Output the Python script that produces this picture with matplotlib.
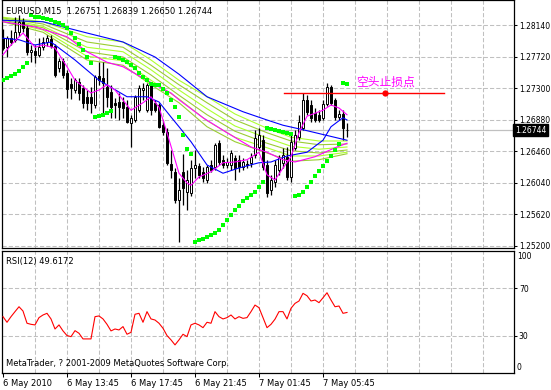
import numpy as np
import matplotlib.pyplot as plt

# EURUSD M15, one bar every 15 minutes from 6 May 2010 09:45 (bar index 0..86)
opens = [1.2797, 1.2785, 1.2797, 1.2795, 1.2805, 1.2819, 1.2811, 1.2779, 1.2780, 1.2775,
         1.2785, 1.2792, 1.2796, 1.2787, 1.2757, 1.2767, 1.2751, 1.2736, 1.2728, 1.2739,
         1.2731, 1.2719, 1.2719, 1.2708, 1.2747, 1.2744, 1.2732, 1.2725, 1.2711, 1.2712,
         1.2712, 1.2705, 1.2684, 1.2688, 1.2701, 1.2728, 1.2701, 1.2735, 1.2711, 1.2708,
         1.2681, 1.2672, 1.2629, 1.2619, 1.2581, 1.2619, 1.2592, 1.2591, 1.2624, 1.2627,
         1.2619, 1.2608, 1.2628, 1.2625, 1.2657, 1.2635, 1.2628, 1.2628, 1.2637, 1.2635,
         1.2625, 1.2629, 1.2631, 1.2641, 1.2652, 1.2661, 1.2628, 1.2595, 1.2605, 1.2621,
         1.2631, 1.2639, 1.2612, 1.2651, 1.2665, 1.2677, 1.2715, 1.2708, 1.2697, 1.2695,
         1.2691, 1.2709, 1.2732, 1.2715, 1.2692, 1.2696, 1.26751]
highs = [1.2809, 1.2800, 1.2808, 1.2825, 1.2828, 1.2824, 1.2815, 1.2788, 1.2788, 1.2797,
         1.2799, 1.2801, 1.2801, 1.2789, 1.2771, 1.2771, 1.2755, 1.2744, 1.2744, 1.2744,
         1.2735, 1.2728, 1.2732, 1.2748, 1.2765, 1.2765, 1.2757, 1.2735, 1.2717, 1.2724,
         1.2719, 1.2715, 1.2695, 1.2721, 1.2735, 1.2737, 1.2737, 1.2739, 1.2715, 1.2711,
         1.2688, 1.2677, 1.2648, 1.2624, 1.2611, 1.2643, 1.2621, 1.2635, 1.2648, 1.2631,
         1.2625, 1.2628, 1.2635, 1.2657, 1.2661, 1.2641, 1.2637, 1.2648, 1.2641, 1.2641,
         1.2637, 1.2635, 1.2644, 1.2675, 1.2677, 1.2668, 1.2635, 1.2615, 1.2635, 1.2641,
         1.2651, 1.2652, 1.2668, 1.2675, 1.2695, 1.2724, 1.2721, 1.2715, 1.2704, 1.2701,
         1.2715, 1.2737, 1.2735, 1.2717, 1.2701, 1.2701, 1.26839]
lows = [1.2781, 1.2772, 1.2788, 1.2792, 1.2800, 1.2805, 1.2775, 1.2765, 1.2764, 1.2772,
        1.2781, 1.2787, 1.2784, 1.2745, 1.2752, 1.2744, 1.2717, 1.2716, 1.2724, 1.2715,
        1.2704, 1.2701, 1.2697, 1.2704, 1.2735, 1.2697, 1.2705, 1.2691, 1.2691, 1.2688,
        1.2691, 1.2684, 1.2652, 1.2685, 1.2699, 1.2715, 1.2699, 1.2695, 1.2699, 1.2677,
        1.2668, 1.2628, 1.2611, 1.2577, 1.2525, 1.2575, 1.2568, 1.2587, 1.2611, 1.2611,
        1.2605, 1.2604, 1.2619, 1.2621, 1.2628, 1.2624, 1.2624, 1.2621, 1.2608, 1.2619,
        1.2621, 1.2624, 1.2625, 1.2637, 1.2648, 1.2621, 1.2585, 1.2588, 1.2599, 1.2615,
        1.2624, 1.2608, 1.2605, 1.2648, 1.2661, 1.2675, 1.2695, 1.2685, 1.2685, 1.2685,
        1.2688, 1.2707, 1.2708, 1.2688, 1.2688, 1.2661, 1.26650]
closes = [1.2784, 1.2797, 1.2792, 1.2805, 1.2819, 1.2811, 1.2779, 1.2781, 1.2775, 1.2785,
          1.2792, 1.2797, 1.2787, 1.2748, 1.2767, 1.2748, 1.2729, 1.2731, 1.2741, 1.2724,
          1.2711, 1.2711, 1.2711, 1.2745, 1.2741, 1.2737, 1.2719, 1.2705, 1.2708, 1.2705,
          1.2704, 1.2685, 1.2691, 1.2719, 1.2731, 1.2731, 1.2735, 1.2701, 1.2701, 1.2679,
          1.2672, 1.2631, 1.2621, 1.2581, 1.2595, 1.2597, 1.2608, 1.2624, 1.2628, 1.2615,
          1.2611, 1.2625, 1.2621, 1.2655, 1.2632, 1.2628, 1.2632, 1.2644, 1.2624, 1.2625,
          1.2632, 1.2628, 1.2639, 1.2664, 1.2668, 1.2625, 1.2591, 1.2608, 1.2628, 1.2637,
          1.2641, 1.2612, 1.2659, 1.2668, 1.2685, 1.2715, 1.2699, 1.2691, 1.2688, 1.2688,
          1.2709, 1.2732, 1.2711, 1.2692, 1.2696, 1.2677, 1.26744]

# parabolic SAR, one value per bar
sar = [1.2741, 1.2744, 1.2747, 1.2749, 1.2753, 1.2759, 1.2764, 1.2828, 1.2825, 1.2825,
       1.2824, 1.2823, 1.2821, 1.2819, 1.2817, 1.2815, 1.2811, 1.2804, 1.2797, 1.2789,
       1.2781, 1.2772, 1.2764, 1.2692, 1.2693, 1.2695, 1.2697, 1.2700, 1.2772, 1.2771,
       1.2768, 1.2765, 1.2761, 1.2757, 1.2751, 1.2745, 1.2741, 1.2736, 1.2735, 1.2735,
       1.2729, 1.2724, 1.2715, 1.2705, 1.2692, 1.2668, 1.2649, 1.2643, 1.2525, 1.2528,
       1.2529, 1.2532, 1.2535, 1.2537, 1.2541, 1.2548, 1.2555, 1.2561, 1.2568, 1.2573,
       1.2580, 1.2584, 1.2588, 1.2592, 1.2599, 1.2605, 1.2677, 1.2676, 1.2675, 1.2673,
       1.2672, 1.2671, 1.2669, 1.2587, 1.2588, 1.2592, 1.2599, 1.2605, 1.2613, 1.2620,
       1.2627, 1.2633, 1.2640, 1.2648, 1.2656, 1.2737, 1.2736]

# RSI(12), one value per bar
rsi = [46.1, 41.4, 46.1, 50.3, 54.4, 50.8, 40.6, 39.7, 39.2, 45.3,
       47.5, 48.9, 44.2, 35.8, 39.2, 34.2, 30.3, 29.4, 34.4, 32.2,
       27.5, 27.5, 27.5, 46.1, 46.7, 44.2, 39.7, 34.2, 35.8, 35.0,
       37.8, 31.4, 33.0, 48.1, 48.9, 41.4, 50.3, 44.2, 43.3, 40.6,
       36.4, 30.3, 26.7, 22.5, 26.7, 31.4, 29.4, 39.2, 40.6, 39.2,
       36.9, 41.4, 40.6, 50.3, 46.1, 44.2, 45.3, 47.5, 44.2, 46.1,
       44.7, 45.3, 50.3, 55.8, 53.6, 45.3, 36.9, 39.7, 44.0, 50.3,
       50.3, 44.2, 53.1, 57.2, 59.2, 65.6, 63.6, 59.2, 60.0, 57.8,
       61.9, 66.1, 60.0, 54.4, 55.0, 48.9, 49.6]

# moving averages, read at selected bars
ribbon_bars = [0, 10, 21, 30, 37, 44, 51, 58, 66, 72, 79, 86]
ribbon1 = [1.2825, 1.2819, 1.2799, 1.2792, 1.2768, 1.2741, 1.2719, 1.2696, 1.2677, 1.2665, 1.2660, 1.2660]
ribbon2 = [1.2824, 1.2816, 1.2792, 1.2785, 1.2761, 1.2735, 1.2711, 1.2688, 1.2671, 1.2660, 1.2655, 1.2656]
ribbon3 = [1.2823, 1.2813, 1.2785, 1.2779, 1.2755, 1.2728, 1.2703, 1.2680, 1.2664, 1.2653, 1.2649, 1.2652]
ribbon4 = [1.2821, 1.2811, 1.2779, 1.2772, 1.2748, 1.2721, 1.2695, 1.2673, 1.2657, 1.2647, 1.2644, 1.2648]
ribbon5 = [1.2820, 1.2808, 1.2773, 1.2767, 1.2741, 1.2716, 1.2687, 1.2665, 1.2651, 1.2640, 1.2640, 1.2645]
ribbon6 = [1.2819, 1.2805, 1.2768, 1.2761, 1.2735, 1.2711, 1.2679, 1.2659, 1.2644, 1.2633, 1.2635, 1.2643]

slow_blue_bars = [0, 10, 21, 30, 38, 44, 51, 60, 66, 70, 75, 86]
slow_blue = [1.2821, 1.2819, 1.2804, 1.2792, 1.2772, 1.2749, 1.2719, 1.2699, 1.2688, 1.2681, 1.2675, 1.2661]

fast_blue_bars = [0, 4, 8, 12, 18, 24, 31, 36, 39, 42, 44, 47, 51, 55, 59, 64, 67, 71, 76, 80, 82, 85, 86]
fast_blue = [1.2797, 1.2795, 1.2788, 1.2792, 1.2768, 1.2741, 1.2719, 1.2719, 1.2712, 1.2692, 1.2679, 1.2659,
             1.2628, 1.2617, 1.2624, 1.2631, 1.2632, 1.2640, 1.2645, 1.2661, 1.2679, 1.2691, 1.2688]

fast_mag_bars = [0, 2, 5, 8, 10, 13, 16, 18, 22, 24, 26, 28, 32, 35, 37, 39, 41, 43, 44, 46, 47, 49, 52,
                 55, 58, 61, 64, 66, 68, 70, 72, 74, 76, 78, 80, 82, 84, 86]
fast_mag = [1.2775, 1.2788, 1.2804, 1.2785, 1.2788, 1.2784, 1.2759, 1.2741, 1.2724, 1.2728, 1.2735, 1.2728,
            1.2701, 1.2711, 1.2719, 1.2705, 1.2671, 1.2635, 1.2617, 1.2604, 1.2601, 1.2612, 1.2619,
            1.2631, 1.2632, 1.2635, 1.2645, 1.2615, 1.2608, 1.2624, 1.2639, 1.2671, 1.2693, 1.2697,
            1.2701, 1.2708, 1.2704, 1.2695]

slow_mag_bars = [0, 8, 16, 21, 26, 30, 35, 38, 42, 44, 50, 56, 62, 66, 70, 73, 78, 83, 86]
slow_mag = [1.2819, 1.2812, 1.2799, 1.2779, 1.2765, 1.2759, 1.2744, 1.2735, 1.2724, 1.2715, 1.2691,
            1.2671, 1.2652, 1.2645, 1.2635, 1.2632, 1.2639, 1.2651, 1.2657]

# short stop level drawn on the chart
stop_price = 1.2724
stop_from, stop_to, stop_dot = 70.25, 110.25, 95.5
stop_text = '空头止损点'
stop_text_bar, stop_text_price = 88.25, 1.2739

price_ticks = [1.28140, 1.27720, 1.27300, 1.26880, 1.26460, 1.26040, 1.25620, 1.25200]
last_price = 1.26744
time_ticks = [0, 16, 32, 48, 64, 80]
time_labels = ['6 May 2010', '6 May 13:45', '6 May 17:45', '6 May 21:45', '7 May 01:45', '7 May 05:45']
grid_bars = list(range(8, 128, 8))

W, H = 551, 390
fig = plt.figure(figsize=(W / 100, H / 100), dpi=100)
ax = fig.add_axes([2 / W, 1 - 248 / H, 512 / W, 248 / H])
rax = fig.add_axes([2 / W, 1 - 373 / H, 512 / W, 122 / H])

grid_kw = dict(color='#c0c0c0', linestyle=(0, (4, 2)), linewidth=0.75, zorder=0)
for a in (ax, rax):
    a.set_xlim(-0.25, 127.75)
    for b in grid_bars:
        a.axvline(b, **grid_kw)
    for s in a.spines.values():
        s.set_linewidth(0.9)
    a.yaxis.tick_right()
    a.tick_params(axis='y', direction='out', length=2.5, width=0.75, labelsize=5.5, pad=1)

# price panel
ax.set_ylim(1.25173, 1.28480)
ax.set_yticks(price_ticks)
ax.set_yticklabels(['%.5f' % p for p in price_ticks])
ax.set_xticks([])
for p in price_ticks:
    ax.axhline(p, **grid_kw)
ax.axhline(last_price, color='#c0c0c0', linewidth=0.9, zorder=1)

x = np.arange(len(closes))
o = np.array(opens)
c = np.array(closes)
up = c >= o
ax.vlines(x, lows, highs, color='black', linewidth=0.9, zorder=3)
ax.bar(x, np.abs(c - o), bottom=np.minimum(o, c), width=0.72,
       color=np.where(up, 'white', 'black'), edgecolor='black', linewidth=0.7, zorder=3)

for r, col in zip([ribbon1, ribbon2, ribbon3, ribbon4, ribbon5, ribbon6],
                  ['#adff2f', '#9acd32', '#adff2f', '#9acd32', '#adff2f', '#9acd32']):
    ax.plot(ribbon_bars, r, color=col, linewidth=0.8, zorder=2)
ax.plot(slow_blue_bars, slow_blue, color='#0000ff', linewidth=0.8, zorder=4)
ax.plot(fast_blue_bars, fast_blue, color='#0000ff', linewidth=0.8, zorder=4)
ax.plot(slow_mag_bars, slow_mag, color='#ff00ff', linewidth=0.8, zorder=4)
ax.plot(fast_mag_bars, fast_mag, color='#ff00ff', linewidth=0.8, zorder=4)
ax.plot(x, sar, 's', color='#00ff00', markersize=2.9, markeredgewidth=0, zorder=5)

ax.plot([stop_from, stop_to], [stop_price, stop_price], color='red', linewidth=1, zorder=5)
ax.plot(stop_dot, stop_price, 'o', color='red', markersize=4.5, markeredgewidth=0, zorder=6)
ax.text(stop_text_bar, stop_text_price, stop_text, color='#ff00ff', fontsize=8.5,
        family=['Noto Sans CJK SC', 'DejaVu Sans'], va='center', ha='left', zorder=6)

ax.text(0.008, 0.955, 'EURUSD,M15  %.5f %.5f %.5f %.5f' % (opens[-1], highs[-1], lows[-1], closes[-1]),
        transform=ax.transAxes, fontsize=6, va='center', ha='left', zorder=7)
ax.text(1.002, last_price, '%.5f' % last_price, transform=ax.get_yaxis_transform(),
        color='white', fontsize=5.5, va='center', ha='left', clip_on=False, zorder=8,
        bbox=dict(facecolor='black', edgecolor='black', boxstyle='square,pad=0.2'))

# RSI panel
rax.set_ylim(-1, 101)
rax.set_yticks([30, 70])
rax.set_yticklabels(['30', '70'])
for lv in (30, 70):
    rax.axhline(lv, **grid_kw)
rax.text(1.0055, 100, '100', transform=rax.get_yaxis_transform(), fontsize=5.5, va='top', ha='left')
rax.text(1.0055, 0, '0', transform=rax.get_yaxis_transform(), fontsize=5.5, va='bottom', ha='left')
rax.plot(x, rsi, color='red', linewidth=0.8, zorder=3)
rax.text(0.008, 0.91, 'RSI(12) %.4f' % 49.6172, transform=rax.transAxes, fontsize=6, va='center')
rax.text(0.008, 0.075, 'MetaTrader, ? 2001-2009 MetaQuotes Software Corp.', transform=rax.transAxes,
         fontsize=6, va='center')
rax.set_xticks(time_ticks)
rax.set_xticklabels(time_labels, ha='left')
rax.tick_params(axis='x', direction='out', length=3, width=0.75, labelsize=6, pad=1)

fig.savefig('out.png', dpi=100)
